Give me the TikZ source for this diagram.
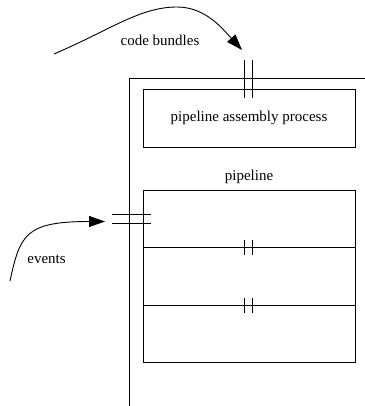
\documentclass[tikz,border=0pt]{standalone}
\usepackage{fontspec}
\setmainfont{Liberation Serif}
\usetikzlibrary{arrows.meta}
\tikzset{
  ln/.style={line width=0.9pt, black},
  boxnode/.style={draw, ln, rectangle, inner sep=0pt, minimum width=212pt},
  lbl/.style={anchor=base, inner sep=0pt, font=\fontsize{15}{18}\selectfont},
  flow/.style={ln, -{Triangle[length=16pt, width=11pt]}},
  bar/.style={ln}
}
\begin{document}
\begin{tikzpicture}[x=1pt, y=-1pt]
\useasboundingbox (0,0) rectangle (364,406);
% outer frame
\draw[ln] (129.5,410) -- (129.5,78) -- (368,78);
% assembly box
\node[boxnode, minimum height=58pt, font=\fontsize{15}{18}\selectfont] (asm) at (249,118) {pipeline assembly process};
% pipeline box
\node[boxnode, minimum height=172pt] (pipe) at (249,276) {};
\node[lbl] (pipelbl) at (249,180) {pipeline};
\coordinate (d1l) at (143,247.5);
\coordinate (d1r) at (355,247.5);
\coordinate (d2l) at (143,305);
\coordinate (d2r) at (355,305);
\draw[ln] (d1l) -- (d1r);
\draw[ln] (d2l) -- (d2r);
% double bars on dividers
\draw[bar] (244,240) -- (244,255) (252,240) -- (252,255);
\draw[bar] (244,298) -- (244,313) (252,298) -- (252,313);
% top double bars
\draw[bar] (244,60) -- (244,98) (252,60) -- (252,98);
% events double bars
\draw[bar] (112,214.5) -- (151,214.5) (112,223) -- (151,223);
% code bundles arrow
\coordinate (cbs) at (54,54);
\coordinate (cbp) at (177,7);
\coordinate (cbe) at (242,50);
\draw[flow] (cbs) .. controls (110,30) and (140,7) .. (cbp) .. controls (205,7) and (222,28) .. (cbe);
\node[lbl] (cblbl) at (160,46) {code bundles};
% events arrow
\coordinate (evs) at (10,281);
\coordinate (eve) at (105,221.5);
\draw[flow] (evs) .. controls (20,235) and (25,221.5) .. (eve);
\node[lbl] (evlbl) at (46.5,263) {events};
\end{tikzpicture}
\end{document}
